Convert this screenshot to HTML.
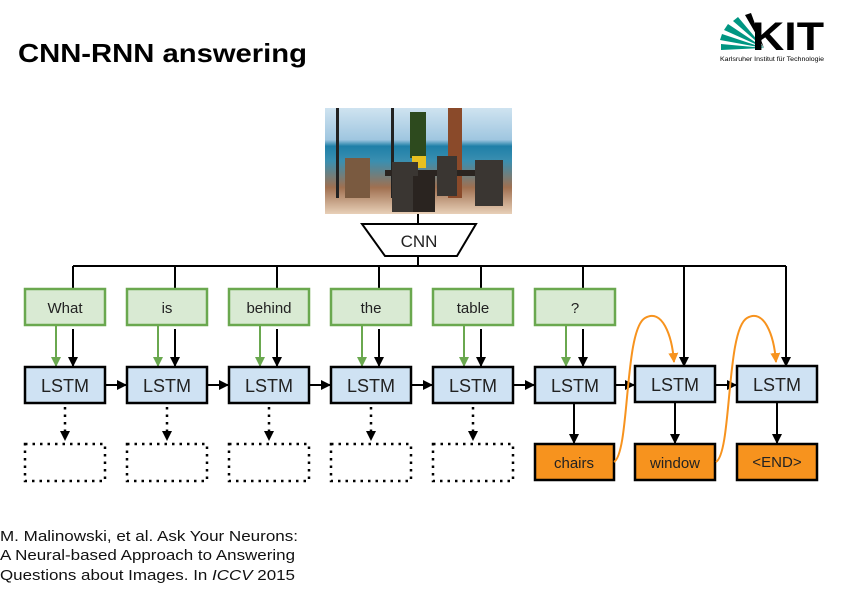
<!DOCTYPE html>
<html><head><meta charset="utf-8"><style>
html,body{margin:0;padding:0;background:#fff;}
body{width:847px;height:589px;overflow:hidden;position:relative;font-family:"Liberation Sans",Arial,sans-serif;}
</style></head><body>
<svg width="847" height="589" viewBox="0 0 847 589" xmlns="http://www.w3.org/2000/svg" style="position:absolute;left:0;top:0">
<defs>
<marker id="ab" markerWidth="10" markerHeight="10" refX="9" refY="5" orient="auto" markerUnits="userSpaceOnUse"><path d="M0,0 L10,5 L0,10 z" fill="#000"/></marker>
<marker id="ag" markerWidth="10" markerHeight="10" refX="9" refY="5" orient="auto" markerUnits="userSpaceOnUse"><path d="M0,0 L10,5 L0,10 z" fill="#6aa84f"/></marker>
<marker id="ao" markerWidth="10" markerHeight="10" refX="9" refY="5" orient="auto" markerUnits="userSpaceOnUse"><path d="M0,0 L10,5 L0,10 z" fill="#f7931e"/></marker>
<linearGradient id="sky" x1="0" y1="0" x2="0" y2="1">
<stop offset="0" stop-color="#cfe3f0"/><stop offset="0.3" stop-color="#9fc6e0"/><stop offset="0.36" stop-color="#1f7fa8"/><stop offset="0.5" stop-color="#3a8fb0"/><stop offset="0.75" stop-color="#a07050"/><stop offset="1" stop-color="#e8d0b8"/></linearGradient>
</defs>
<text x="18" y="62" font-size="26" font-weight="bold" fill="#000" textLength="289" lengthAdjust="spacingAndGlyphs">CNN-RNN answering</text>
<!-- KIT logo -->
<g>
<path d="M764,48 L721,44 L721,50 Z" fill="#009682"/>
<path d="M764,48 L722,34 L720,40 Z" fill="#009682"/>
<path d="M764,48 L728,24 L724,30 Z" fill="#009682"/>
<path d="M764,48 L738,17 L733,21 Z" fill="#009682"/>
<path d="M764,48 L751,13 L745,15 Z" fill="#000"/>
<text x="752" y="50" font-size="40" font-weight="bold" fill="#000" textLength="72" lengthAdjust="spacingAndGlyphs">KIT</text>
<text x="720" y="61" font-size="6" fill="#000" textLength="104" lengthAdjust="spacingAndGlyphs">Karlsruher Institut für Technologie</text>
</g>
<!-- image -->
<rect x="325" y="108" width="187" height="106" fill="url(#sky)"/>
<rect x="336" y="108" width="3" height="90" fill="#222"/>
<rect x="391" y="108" width="3" height="90" fill="#222"/>
<rect x="448" y="108" width="14" height="90" fill="#8a4a2a"/>
<rect x="410" y="112" width="16" height="46" fill="#2d4a1e"/>
<rect x="412" y="156" width="14" height="12" fill="#e8c020"/>
<rect x="385" y="170" width="90" height="6" fill="#2a2420"/>
<rect x="392" y="162" width="26" height="50" fill="#3a3632"/>
<rect x="437" y="156" width="20" height="40" fill="#3a3632"/>
<rect x="475" y="160" width="28" height="46" fill="#3a3632"/>
<rect x="345" y="158" width="25" height="40" fill="#7a5a40"/>
<rect x="413" y="176" width="22" height="36" fill="#2a2420"/>
<!-- CNN -->
<line x1="418" y1="214" x2="418" y2="224" stroke="#000" stroke-width="2"/>
<path d="M362,224 L476,224 L457,256 L385,256 Z" fill="#fff" stroke="#000" stroke-width="2"/>
<text x="419" y="247" font-size="17" text-anchor="middle" fill="#222">CNN</text>
<line x1="418" y1="256" x2="418" y2="266" stroke="#000" stroke-width="2"/>
<!-- bus -->
<line x1="73" y1="266" x2="786" y2="266" stroke="#000" stroke-width="2"/>
<g stroke="#000" stroke-width="2">
<line x1="73" y1="266" x2="73" y2="289"/>
<line x1="175" y1="266" x2="175" y2="289"/>
<line x1="277" y1="266" x2="277" y2="289"/>
<line x1="379" y1="266" x2="379" y2="289"/>
<line x1="481" y1="266" x2="481" y2="289"/>
<line x1="583" y1="266" x2="583" y2="289"/>
<line x1="684" y1="266" x2="684" y2="366" marker-end="url(#ab)"/>
<line x1="786" y1="266" x2="786" y2="366" marker-end="url(#ab)"/>
</g>
<g font-size="15" text-anchor="middle" fill="#222">
<g fill="#d9ead3" stroke="#6aa84f" stroke-width="2.5">
<rect x="25" y="289" width="80" height="36"/>
<rect x="127" y="289" width="80" height="36"/>
<rect x="229" y="289" width="80" height="36"/>
<rect x="331" y="289" width="80" height="36"/>
<rect x="433" y="289" width="80" height="36"/>
<rect x="535" y="289" width="80" height="36"/>
</g>
<text x="65" y="313">What</text>
<text x="167" y="313">is</text>
<text x="269" y="313">behind</text>
<text x="371" y="313">the</text>
<text x="473" y="313">table</text>
<text x="575" y="313">?</text>
<g stroke="#6aa84f" stroke-width="2">
<line x1="56" y1="326" x2="56" y2="366" marker-end="url(#ag)"/>
<line x1="158" y1="326" x2="158" y2="366" marker-end="url(#ag)"/>
<line x1="260" y1="326" x2="260" y2="366" marker-end="url(#ag)"/>
<line x1="362" y1="326" x2="362" y2="366" marker-end="url(#ag)"/>
<line x1="464" y1="326" x2="464" y2="366" marker-end="url(#ag)"/>
<line x1="566" y1="326" x2="566" y2="366" marker-end="url(#ag)"/>
</g>
<g stroke="#000" stroke-width="2">
<line x1="73" y1="329" x2="73" y2="366" marker-end="url(#ab)"/>
<line x1="175" y1="329" x2="175" y2="366" marker-end="url(#ab)"/>
<line x1="277" y1="329" x2="277" y2="366" marker-end="url(#ab)"/>
<line x1="379" y1="329" x2="379" y2="366" marker-end="url(#ab)"/>
<line x1="481" y1="329" x2="481" y2="366" marker-end="url(#ab)"/>
<line x1="583" y1="329" x2="583" y2="366" marker-end="url(#ab)"/>
</g>
<g fill="#cfe2f3" stroke="#000" stroke-width="2.5">
<rect x="25" y="367" width="80" height="36"/>
<rect x="127" y="367" width="80" height="36"/>
<rect x="229" y="367" width="80" height="36"/>
<rect x="331" y="367" width="80" height="36"/>
<rect x="433" y="367" width="80" height="36"/>
<rect x="535" y="367" width="80" height="36"/>
<rect x="635" y="366" width="80" height="36"/>
<rect x="737" y="366" width="80" height="36"/>
</g>
<g font-size="18">
<text x="65" y="392">LSTM</text>
<text x="167" y="392">LSTM</text>
<text x="269" y="392">LSTM</text>
<text x="371" y="392">LSTM</text>
<text x="473" y="392">LSTM</text>
<text x="575" y="392">LSTM</text>
<text x="675" y="391">LSTM</text>
<text x="777" y="391">LSTM</text>
</g>
<g stroke="#000" stroke-width="2">
<line x1="106" y1="385" x2="126" y2="385" marker-end="url(#ab)"/>
<line x1="208" y1="385" x2="228" y2="385" marker-end="url(#ab)"/>
<line x1="310" y1="385" x2="330" y2="385" marker-end="url(#ab)"/>
<line x1="412" y1="385" x2="432" y2="385" marker-end="url(#ab)"/>
<line x1="514" y1="385" x2="534" y2="385" marker-end="url(#ab)"/>
<line x1="616" y1="385" x2="634" y2="385" marker-end="url(#ab)"/>
<line x1="716" y1="385" x2="736" y2="385" marker-end="url(#ab)"/>
</g>
<g stroke="#000" stroke-width="2.5" stroke-dasharray="2.5,5" fill="none">
<line x1="65" y1="407" x2="65" y2="432"/>
<line x1="167" y1="407" x2="167" y2="432"/>
<line x1="269" y1="407" x2="269" y2="432"/>
<line x1="371" y1="407" x2="371" y2="432"/>
<line x1="473" y1="407" x2="473" y2="432"/>
<rect x="25" y="444" width="80" height="37"/>
<rect x="127" y="444" width="80" height="37"/>
<rect x="229" y="444" width="80" height="37"/>
<rect x="331" y="444" width="80" height="37"/>
<rect x="433" y="444" width="80" height="37"/>
</g>
<g fill="#000">
<path d="M60,431 L70,431 L65,441 Z"/>
<path d="M162,431 L172,431 L167,441 Z"/>
<path d="M264,431 L274,431 L269,441 Z"/>
<path d="M366,431 L376,431 L371,441 Z"/>
<path d="M468,431 L478,431 L473,441 Z"/>
</g>
<g stroke="#000" stroke-width="2">
<line x1="574" y1="404" x2="574" y2="443" marker-end="url(#ab)"/>
<line x1="675" y1="403" x2="675" y2="443" marker-end="url(#ab)"/>
<line x1="777" y1="403" x2="777" y2="443" marker-end="url(#ab)"/>
</g>
<g fill="#f7931e" stroke="#000" stroke-width="2.5">
<rect x="535" y="444" width="79" height="36"/>
<rect x="635" y="444" width="80" height="36"/>
<rect x="737" y="444" width="80" height="36"/>
</g>
<text x="574" y="468" fill="#222">chairs</text>
<text x="675" y="468" fill="#222">window</text>
<text x="777" y="467" fill="#222">&lt;END&gt;</text>
</g>
<g stroke="#f7931e" stroke-width="2" fill="none">
<path d="M614,462 C630,452 624,330 645,318 C662,308 672,335 674,362" marker-end="url(#ao)"/>
<path d="M716,462 C732,452 726,330 747,318 C764,308 774,335 776,362" marker-end="url(#ao)"/>
</g>
<g font-size="15" fill="#111">
<text x="0" y="541" textLength="298" lengthAdjust="spacingAndGlyphs">M. Malinowski, et al. Ask Your Neurons:</text>
<text x="0" y="560" textLength="295" lengthAdjust="spacingAndGlyphs">A Neural-based Approach to Answering</text>
<text x="0" y="580" textLength="295" lengthAdjust="spacingAndGlyphs">Questions about Images. In <tspan font-style="italic">ICCV</tspan> 2015</text>
</g>
</svg>
</body></html>
